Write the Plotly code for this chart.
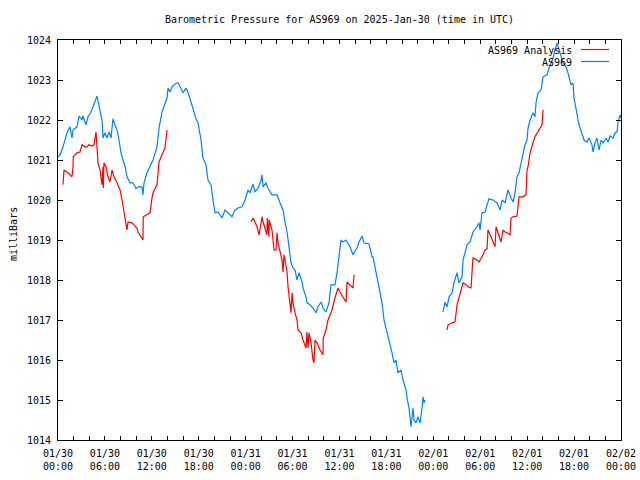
import plotly.graph_objects as go

# ---------------- data (hours since 2025-01-30 00:00 UTC, pressure in mb) ----------------
station_hours = [
    0.00, 0.26, 0.64, 1.15, 1.53, 1.79, 1.92, 2.43, 2.69, 3.07, 3.20, 3.58, 3.84, 4.22, 4.48, 4.86,
    4.99, 5.37, 5.63, 5.76, 6.01, 6.27, 6.52, 6.78, 7.03, 7.29, 7.55, 7.80, 8.06, 8.31, 8.57, 8.82,
    9.21, 9.59, 9.98, 10.23, 10.74, 10.87, 11.00, 11.38, 11.77, 12.15, 12.66, 12.92, 13.30, 13.56,
    13.94, 14.07, 14.32, 14.58, 14.96, 15.35, 15.73, 15.99, 16.37, 16.63, 17.01, 17.27, 17.65, 17.90,
    18.29, 18.54, 18.93, 19.18, 19.57, 19.82, 20.08, 20.46, 20.97, 21.36, 21.74, 22.25, 22.64, 23.02,
    23.53, 23.92, 24.30, 24.55, 24.94, 25.19, 25.58, 25.96, 26.09, 26.22, 26.60, 26.85, 27.37, 28.01,
    28.39, 28.78, 29.03, 29.29, 29.54, 29.80, 30.05, 30.31, 30.57, 30.82, 31.21, 31.33, 31.72, 31.84,
    32.23, 32.61, 33.00, 33.25, 33.64, 33.89, 34.27, 34.66, 34.91, 35.42, 35.68, 35.94, 36.19, 36.45,
    36.83, 37.34, 37.73, 38.24, 38.49, 38.88, 39.13, 39.77, 40.16, 40.28, 40.54, 40.80, 41.05, 41.44,
    41.69, 42.08, 42.46, 42.72, 42.97, 43.23, 43.48, 43.87, 44.12, 44.51, 44.64, 44.89, 45.15, 45.40,
    45.53, 45.78, 46.04, 46.30, 46.55, 46.68, 46.81, 46.94,
    None,
    49.24, 49.49, 49.75, 50.01, 50.39, 50.64, 51.03, 51.28, 51.67, 51.80, 52.31, 52.69, 53.07, 53.59,
    53.84, 53.97, 54.23, 54.61, 54.87, 55.12, 55.64, 56.15, 56.53, 56.79, 57.17, 57.55, 57.94, 58.19,
    58.45, 58.70, 58.96, 59.34, 59.72, 59.98, 60.11, 60.37, 60.75, 61.00, 61.13, 61.39, 61.77, 62.03,
    62.54, 62.79, 63.05, 63.31, 63.56, 63.82, 64.20, 64.58, 64.97, 65.22, 65.61, 65.86, 65.99, 66.37,
    66.63, 67.14, 67.27, 67.65, 67.91, 68.29, 68.42, 68.68, 68.93, 69.19, 69.45, 69.70, 70.08, 70.34,
    70.60, 70.98, 71.24, 71.49, 71.62, 71.88, 72.00,
]
station_pressure = [
    1021.08, 1021.13, 1021.33, 1021.68, 1021.83, 1021.55, 1021.75, 1021.83, 1022.10, 1022.00, 1022.10,
    1021.88, 1022.08, 1022.20, 1022.33, 1022.50, 1022.60, 1022.23, 1022.00, 1021.55, 1021.68, 1021.55,
    1021.70, 1021.55, 1022.03, 1021.88, 1021.75, 1021.50, 1021.18, 1021.00, 1020.85, 1020.58, 1020.43,
    1020.43, 1020.28, 1020.33, 1020.33, 1020.13, 1020.43, 1020.68, 1020.83, 1021.00, 1021.33, 1021.80,
    1022.20, 1022.33, 1022.55, 1022.80, 1022.70, 1022.83, 1022.90, 1022.93, 1022.80, 1022.68, 1022.80,
    1022.68, 1022.45, 1022.25, 1022.03, 1021.93, 1021.50, 1021.05, 1020.88, 1020.50, 1020.38, 1020.00,
    1019.68, 1019.70, 1019.55, 1019.75, 1019.68, 1019.58, 1019.75, 1019.80, 1019.83, 1020.00, 1020.25,
    1020.18, 1020.40, 1020.20, 1020.30, 1020.48, 1020.63, 1020.33, 1020.43, 1020.30, 1020.13, 1020.13,
    1019.93, 1019.75, 1019.45, 1019.20, 1018.83, 1018.43, 1018.30, 1018.25, 1018.00, 1018.18, 1017.95,
    1017.80, 1017.58, 1017.43, 1017.38, 1017.30, 1017.18, 1017.33, 1017.45, 1017.30, 1017.20, 1017.43,
    1017.88, 1017.88, 1018.18, 1018.58, 1019.00, 1018.95, 1019.00, 1018.83, 1018.63, 1018.80, 1018.95,
    1019.10, 1018.93, 1018.90, 1018.58, 1018.58, 1018.33, 1018.08, 1017.83, 1017.43, 1017.00, 1016.68,
    1016.43, 1016.18, 1015.93, 1016.00, 1015.68, 1015.75, 1015.50, 1015.25, 1015.05, 1014.80, 1014.33,
    1014.80, 1014.50, 1014.43, 1014.58, 1014.43, 1014.80, 1015.08, 1014.93, 1015.00,
    None,
    1017.20, 1017.45, 1017.33, 1017.58, 1017.68, 1017.93, 1018.18, 1017.93, 1018.08, 1018.50, 1018.88,
    1018.95, 1019.20, 1019.33, 1019.43, 1019.25, 1019.68, 1019.70, 1019.88, 1020.03, 1020.00, 1019.93,
    1019.75, 1020.00, 1019.93, 1020.25, 1020.05, 1019.95, 1020.18, 1020.58, 1020.68, 1021.08, 1021.38,
    1021.50, 1021.80, 1022.00, 1022.18, 1022.08, 1022.43, 1022.68, 1022.75, 1023.08, 1023.13, 1023.30,
    1023.43, 1023.55, 1023.75, 1023.93, 1023.68, 1023.43, 1023.33, 1023.18, 1022.88, 1022.93, 1022.55,
    1022.18, 1021.88, 1021.58, 1021.50, 1021.45, 1021.55, 1021.38, 1021.20, 1021.43, 1021.55, 1021.25,
    1021.50, 1021.43, 1021.55, 1021.45, 1021.60, 1021.55, 1021.68, 1021.70, 1021.95, 1022.13, 1022.05,
]

analysis_hours = [
    0.64, 0.77, 1.28, 1.79, 1.92, 1.95, 2.43, 2.81, 3.07, 3.45, 3.71, 3.96, 4.35, 4.60, 4.86, 4.99,
    5.12, 5.37, 5.63, 5.76, 5.80, 5.88, 6.14, 6.39, 6.65, 6.91, 7.16, 7.55, 7.93, 8.19, 8.44, 8.70,
    8.82, 8.95, 9.46, 9.72, 10.10, 10.23, 10.61, 10.87, 10.90, 11.38, 11.77, 12.02, 12.15, 12.66,
    12.92, 13.30, 13.68, 13.94,
    None,
    24.68, 24.94, 25.19, 25.45, 25.71, 25.96, 26.09, 26.22, 26.47, 26.73, 26.76, 26.98, 27.01, 27.37,
    27.50, 27.62, 27.88, 28.01, 28.14, 28.39, 28.65, 28.78, 28.90, 29.03, 29.29, 29.42, 29.54, 29.67,
    29.80, 29.93, 30.05, 30.31, 30.57, 30.69, 31.08, 31.33, 31.72, 31.84, 31.97, 32.10, 32.36, 32.61,
    32.74, 32.87, 33.12, 33.51, 33.89, 33.92, 34.27, 34.53, 35.04, 35.42, 35.81, 36.06, 36.45, 36.83,
    36.96, 37.34, 37.73, 37.86,
    None,
    49.75, 49.88, 50.39, 50.77, 51.03, 51.41, 51.80, 52.18, 52.43, 52.82, 52.95, 53.07, 53.59, 53.84,
    54.23, 54.61, 54.87, 54.99, 55.38, 55.64, 55.89, 56.02, 56.27, 56.66, 56.91, 57.17, 57.42, 57.81,
    57.94, 58.19, 58.70, 58.96, 59.47, 59.85, 59.98, 60.11, 60.37, 60.62, 60.75, 61.00, 61.39, 61.90,
    62.03,
]
analysis_pressure = [
    1020.38, 1020.75, 1020.68, 1020.58, 1020.83, 1021.08, 1021.18, 1021.20, 1021.38, 1021.33, 1021.33,
    1021.38, 1021.35, 1021.38, 1021.70, 1021.33, 1020.93, 1020.75, 1020.38, 1020.83, 1020.30, 1020.93,
    1020.83, 1020.58, 1020.45, 1020.75, 1020.58, 1020.43, 1020.25, 1020.00, 1019.70, 1019.50, 1019.25,
    1019.45, 1019.43, 1019.38, 1019.30, 1019.20, 1019.08, 1019.00, 1019.58, 1019.63, 1019.68, 1020.05,
    1020.18, 1020.38, 1020.95, 1021.13, 1021.30, 1021.75,
    None,
    1019.45, 1019.55, 1019.45, 1019.33, 1019.13, 1019.45, 1019.58, 1019.45, 1019.30, 1019.13, 1019.55,
    1019.08, 1019.50, 1019.25, 1019.00, 1018.75, 1018.75, 1019.18, 1018.93, 1018.75, 1018.50, 1018.20,
    1018.63, 1018.50, 1018.20, 1017.83, 1017.58, 1017.33, 1017.18, 1017.68, 1017.43, 1017.18, 1017.00,
    1016.75, 1016.68, 1016.50, 1016.30, 1016.70, 1016.30, 1016.68, 1016.43, 1016.00, 1015.93, 1016.50,
    1016.43, 1016.25, 1016.13, 1016.55, 1016.75, 1017.00, 1017.25, 1017.55, 1017.80, 1017.70, 1017.58,
    1017.45, 1017.95, 1017.88, 1017.80, 1018.13,
    None,
    1016.75, 1016.88, 1016.93, 1016.95, 1017.38, 1017.68, 1017.93, 1017.88, 1017.83, 1017.80, 1018.13,
    1018.55, 1018.50, 1018.45, 1018.58, 1018.75, 1018.78, 1019.25, 1019.08, 1018.95, 1018.83, 1019.33,
    1019.20, 1018.95, 1019.25, 1019.20, 1019.18, 1019.13, 1019.55, 1019.58, 1019.60, 1020.08, 1020.08,
    1020.13, 1020.75, 1020.83, 1021.18, 1021.38, 1021.43, 1021.58, 1021.70, 1021.88, 1022.25,
]

tick_hours = list(range(0, 73, 2))
label_hours = [0, 6, 12, 18, 24, 30, 36, 42, 48, 54, 60, 66, 72]
label_text = [
    "01/30<br>00:00", "01/30<br>06:00", "01/30<br>12:00", "01/30<br>18:00",
    "01/31<br>00:00", "01/31<br>06:00", "01/31<br>12:00", "01/31<br>18:00",
    "02/01<br>00:00", "02/01<br>06:00", "02/01<br>12:00", "02/01<br>18:00",
    "02/02<br>00:00",
]
y_ticks = list(range(1014, 1025))

series_names = ["AS969 Analysis", "AS969"]
series_colors = ["#ff0000", "#0080ff"]

# ---------------- figure ----------------
FONT = "DejaVu Sans Mono"
label_map = dict(zip(label_hours, label_text))
tick_text = [label_map.get(h, "") for h in tick_hours]

fig = go.Figure()
fig.add_trace(go.Scatter(x=analysis_hours, y=analysis_pressure, mode="lines",
                         line=dict(color=series_colors[0], width=1.2),
                         name=series_names[0], connectgaps=False, showlegend=False))
fig.add_trace(go.Scatter(x=station_hours, y=station_pressure, mode="lines",
                         line=dict(color=series_colors[1], width=1.2),
                         name=series_names[1], connectgaps=False, showlegend=False))

L, R, T, B = 58, 19, 40, 40
PW, PH = 640 - L - R, 480 - T - B

def px(xp):
    return (xp - L) / PW

def py(yp):
    return (480 - B - yp) / PH

annotations = [
    dict(text="milliBars", textangle=-90, xref="paper", yref="paper",
         x=px(13), y=py(234), showarrow=False, xanchor="center", yanchor="middle",
         font=dict(family=FONT, size=10, color="black")),
]
shapes = []
legend_rows = [50, 62]
for name, color, yrow in zip(series_names, series_colors, legend_rows):
    annotations.append(dict(text=name, xref="paper", yref="paper", x=px(574), y=py(yrow),
                            showarrow=False, xanchor="right", yanchor="middle",
                            font=dict(family=FONT, size=10, color="black")))
    shapes.append(dict(type="line", xref="paper", yref="paper",
                       x0=px(581), x1=px(609), y0=py(yrow - 0.5), y1=py(yrow - 0.5),
                       line=dict(color=color, width=1.2)))

fig.update_layout(
    width=640, height=480,
    margin=dict(l=L, r=R, t=T, b=B, pad=0),
    paper_bgcolor="white", plot_bgcolor="white",
    font=dict(family=FONT, size=10, color="black"),
    title=dict(text="Barometric Pressure for AS969 on 2025-Jan-30 (time in UTC)",
               x=0.5, xref="paper", xanchor="center",
               y=1 - 19 / 480, yref="container", yanchor="middle",
               font=dict(family=FONT, size=10, color="black")),
    xaxis=dict(range=[0, 72], tickmode="array", tickvals=tick_hours, ticktext=tick_text,
               ticks="inside", ticklen=4, tickcolor="black", showgrid=False, zeroline=False,
               showline=True, linecolor="black", linewidth=1, mirror="ticks",
               ticklabelstandoff=4, automargin=False,
               tickfont=dict(family=FONT, size=10, color="black")),
    yaxis=dict(range=[1014, 1024], tickmode="array", tickvals=y_ticks,
               ticktext=[str(v) for v in y_ticks],
               ticks="inside", ticklen=5, tickcolor="black", showgrid=False, zeroline=False,
               showline=True, linecolor="black", linewidth=1, mirror="ticks",
               ticklabelstandoff=4, automargin=False,
               tickfont=dict(family=FONT, size=10, color="black")),
    annotations=annotations,
    shapes=shapes,
    showlegend=False,
)

fig.write_html("out.html",
               config={"displayModeBar": False},
               post_script="document.body.style.margin='0';document.body.style.padding='0';")
